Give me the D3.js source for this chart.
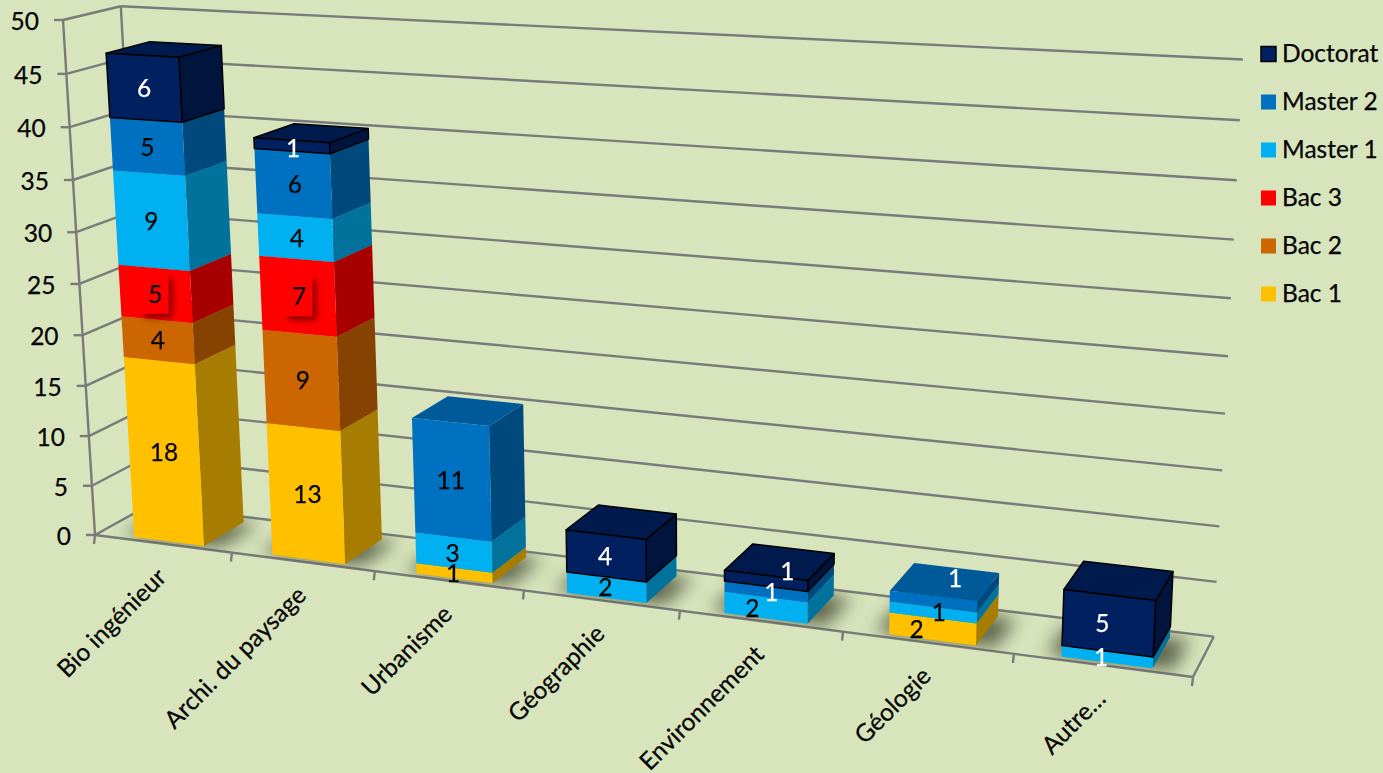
<!DOCTYPE html>
<html>
<head>
<meta charset="utf-8">
<script src="https://cdnjs.cloudflare.com/ajax/libs/d3/7.8.5/d3.min.js"></script>
<style>
	html, body { margin: 0; padding: 0; background: #D8E4BC; overflow: hidden; }
	text { font-family: Lato, "Open Sans", sans-serif; fill: #050505; font-size: 24.5px; stroke: currentColor; stroke-width: 0.25px; color: #050505; }
	.grid { stroke: #7a7a7a; stroke-width: 2.4; fill: none; }
</style>
</head>
<body>
<svg id="viz" width="1383" height="773"></svg>
<script>

// The data. Bottom of the stack first.
var categories = [ 'Bio ingénieur', 'Archi. du paysage', 'Urbanisme', 'Géographie', 'Environnement', 'Géologie', 'Autre…' ];
var seriesNames = [ 'Bac 1', 'Bac 2', 'Bac 3', 'Master 1', 'Master 2', 'Doctorat' ];
var bac1 = [ 18, 13, 1, 0, 0, 2, 0 ];
var bac2 = [ 4, 9, 0, 0, 0, 0, 0 ];
var bac3 = [ 5, 7, 0, 0, 0, 0, 0 ];
var master1 = [ 9, 4, 3, 2, 2, 1, 1 ];
var master2 = [ 5, 6, 11, 0, 1, 1, 0 ];
var doctorat = [ 6, 1, 0, 4, 1, 0, 5 ];
var valueTicks = [ 0, 5, 10, 15, 20, 25, 30, 35, 40, 45, 50 ];
var seriesColors = [ '#FFC000', '#CC6600', '#FF0000', '#00B0F0', '#0070C0', '#002060' ];

window.stackViz = {

	/**
	 * @private
	 * Screen position and perspective weight of the three box edges that leave the origin.
	 */
	_box: {
		origin: [ 95, 535 ],
		u: { end: [ 1193, 677 ], weight: 0.855 },
		v: { end: [ 63, 20 ], weight: 0.951 },
		w: { end: [ 149, 505 ], weight: 1.034 }
	},

	_barDepth: [ 0.08, 0.85 ],

	// Small sideways shift of the data labels, one per bar.
	_labelShift: [ 0, 1.5, -1, -1, 0.5, 0, -6 ],

	// Data labels that were moved by hand in the picture: [ dx, dy ] from the centre of the face.
	_labelNudge: {
		'4|Master 1': [ -14, 0 ],
		'4|Master 2': [ 5, 0 ],
		'4|Doctorat': [ 21, -10 ],
		'5|Bac 1': [ -16, 0 ],
		'5|Master 1': [ 6, 0 ],
		'5|Master 2': [ 22, -24 ],
		'1|Doctorat': [ 0, 2 ]
	},

	_whiteLabels: [ '4|Master 2', '5|Master 2', '6|Master 1' ],

	/**
	 * @private
	 * Perspective projection of a point of the unit box.
	 */
	_project: function ( u, v, w ) {
		var box = this._box;
		var axis = function ( i ) {
			return box.origin[i] +
				u * ( box.u.weight * box.u.end[i] - box.origin[i] ) +
				v * ( box.v.weight * box.v.end[i] - box.origin[i] ) +
				w * ( box.w.weight * box.w.end[i] - box.origin[i] );
		};
		var h = 1 + u * ( box.u.weight - 1 ) + v * ( box.v.weight - 1 ) + w * ( box.w.weight - 1 );
		return [ axis( 0 ) / h, axis( 1 ) / h ];
	},

	_poly: function ( points ) {
		return points.map( function ( p ) {
			return this._project( p[0], p[1], p[2] ).join( ',' );
		}.bind( this ) ).join( ' ' );
	},

	_setScales: function () {
		this._svg = d3.select( '#viz' );
		this._valueScale = d3.scaleLinear().domain( [ 0, 50 ] ).range( [ 0, 1 ] );
		this._bandScale = d3.scaleBand().domain( categories ).range( [ 0.002, 1.002 ] ).paddingInner( 0.49 ).paddingOuter( 0.245 );
		this._tickScale = d3.scalePoint().domain( d3.range( categories.length + 1 ) ).range( [ 0, 1 ] );

		var rows = categories.map( function ( c, i ) {
			return { 'Bac 1': bac1[i], 'Bac 2': bac2[i], 'Bac 3': bac3[i], 'Master 1': master1[i], 'Master 2': master2[i], 'Doctorat': doctorat[i] };
		} );
		this._stack = d3.stack().keys( seriesNames )( rows );
	},

	_createDefs: function () {
		var defs = this._svg.append( 'defs' );
		defs.append( 'filter' ).attr( 'id', 'floor-shadow' )
			.attr( 'x', '-50%' ).attr( 'y', '-50%' ).attr( 'width', '200%' ).attr( 'height', '200%' )
			.append( 'feGaussianBlur' ).attr( 'stdDeviation', 9 );
		defs.append( 'filter' ).attr( 'id', 'box-shadow' )
			.attr( 'x', '-50%' ).attr( 'y', '-50%' ).attr( 'width', '200%' ).attr( 'height', '200%' )
			.append( 'feDropShadow' ).attr( 'dx', 4 ).attr( 'dy', 4 ).attr( 'stdDeviation', 3 )
			.attr( 'flood-color', '#600000' ).attr( 'flood-opacity', 0.75 );
		defs.append( 'clipPath' ).attr( 'id', 'floor-clip' )
			.append( 'polygon' ).attr( 'points', this._poly( [ [ 0, 0, 0 ], [ 1, 0, 0 ], [ 1, 0, 1 ], [ 0, 0, 1 ] ] ) );
	},

	_createGrid: function () {
		var self = this;
		var grid = this._svg.append( 'g' );

		var line = function ( a, b ) {
			var p = self._project( a[0], a[1], a[2] );
			var q = self._project( b[0], b[1], b[2] );
			grid.append( 'line' ).classed( 'grid', true )
				.attr( 'x1', p[0] ).attr( 'y1', p[1] ).attr( 'x2', q[0] ).attr( 'y2', q[1] );
		};

		valueTicks.forEach( function ( t ) {
			var v = self._valueScale( t );
			line( [ 0, v, 0 ], [ 0, v, 1 ] );
			line( [ 0, v, 1 ], [ 1, v, 1 ] );

			var p = self._project( 0, v, 0 );
			grid.append( 'line' ).classed( 'grid', true )
				.attr( 'x1', p[0] - 9 ).attr( 'y1', p[1] ).attr( 'x2', p[0] ).attr( 'y2', p[1] );
			grid.append( 'text' )
				.attr( 'x', p[0] - 24 ).attr( 'y', p[1] + 10 )
				.attr( 'text-anchor', 'end' )
				.text( t );
		} );

		line( [ 0, 0, 0 ], [ 0, 1, 0 ] );
		line( [ 0, 0, 1 ], [ 0, 1, 1 ] );
		line( [ 0, 0, 0 ], [ 1, 0, 0 ] );
		line( [ 1, 0, 0 ], [ 1, 0, 1 ] );

		this._tickScale.domain().forEach( function ( i ) {
			var p = self._project( self._tickScale( i ), 0, 0 );
			grid.append( 'line' ).classed( 'grid', true )
				.attr( 'x1', p[0] ).attr( 'y1', p[1] ).attr( 'x2', p[0] - 1 ).attr( 'y2', p[1] + 9 );
		} );

		categories.forEach( function ( c, i ) {
			var p = self._project( ( self._tickScale( i ) + self._tickScale( i + 1 ) ) / 2, 0, 0 );
			grid.append( 'text' )
				.attr( 'transform', 'translate(' + ( p[0] + 5 ) + ',' + ( p[1] + 35 ) + ') rotate(-45)' )
				.attr( 'text-anchor', 'end' )
				.text( c );
		} );
	},

	_createShadows: function () {
		var self = this;
		var layer = this._svg.append( 'g' ).attr( 'clip-path', 'url(#floor-clip)' )
			.append( 'g' ).attr( 'filter', 'url(#floor-shadow)' );
		var d = this._barDepth;
		categories.forEach( function ( c ) {
			var u0 = self._bandScale( c ) - 0.012;
			var u1 = self._bandScale( c ) + self._bandScale.bandwidth() + 0.016;
			layer.append( 'polygon' )
				.attr( 'points', self._poly( [ [ u0, 0, d[0] ], [ u1, 0, d[0] ], [ u1, 0, d[1] ], [ u0, 0, d[1] ] ] ) )
				.attr( 'fill', '#4a5238' ).attr( 'opacity', 0.85 );
		} );
	},

	_createBars: function () {
		var self = this;
		var d = this._barDepth;
		var labels = [];

		categories.forEach( function ( c, i ) {
			var u0 = self._bandScale( c );
			var u1 = u0 + self._bandScale.bandwidth();
			var bar = self._svg.append( 'g' );

			self._stack.forEach( function ( layer, s ) {
				var y0 = layer[i][0];
				var y1 = layer[i][1];
				if ( y1 === y0 ) { return; }

				var v0 = self._valueScale( y0 );
				var v1 = self._valueScale( y1 );
				var base = d3.rgb( seriesColors[s] );
				var isDoc = layer.key === 'Doctorat';
				var stroke = isDoc ? '#000' : 'none';

				var face = function ( points, k ) {
					bar.append( 'polygon' )
						.attr( 'points', self._poly( points ) )
						.attr( 'fill', d3.rgb( base.r * k, base.g * k, base.b * k ) )
						.attr( 'stroke', stroke )
						.attr( 'stroke-width', 1.5 )
						.attr( 'stroke-linejoin', 'round' );
				};

				face( [ [ u1, v0, d[0] ], [ u1, v0, d[1] ], [ u1, v1, d[1] ], [ u1, v1, d[0] ] ], 0.65 );
				face( [ [ u0, v1, d[0] ], [ u1, v1, d[0] ], [ u1, v1, d[1] ], [ u0, v1, d[1] ] ], 0.8 );
				face( [ [ u0, v0, d[0] ], [ u1, v0, d[0] ], [ u1, v1, d[0] ], [ u0, v1, d[0] ] ], 1 );

				var p = self._project( ( u0 + u1 ) / 2, ( v0 + v1 ) / 2, d[0] );
				var key = i + '|' + layer.key;
				var nudge = self._labelNudge[key] || [ 0, 0 ];
				labels.push( {
					x: p[0] + self._labelShift[i] + nudge[0],
					y: p[1] + nudge[1],
					value: y1 - y0,
					white: isDoc || self._whiteLabels.indexOf( key ) !== -1,
					box: layer.key === 'Bac 3'
				} );
			} );
		} );

		// Labels sit above every bar.
		var group = this._svg.append( 'g' );
		labels.forEach( function ( l ) {
			if ( l.box ) {
				group.append( 'rect' )
					.attr( 'x', l.x - 15 ).attr( 'y', l.y - 20 ).attr( 'width', 28 ).attr( 'height', 40 )
					.attr( 'fill', '#FF0000' ).attr( 'filter', 'url(#box-shadow)' );
			}
			group.append( 'text' )
				.attr( 'x', l.x ).attr( 'y', l.y + 9 )
				.attr( 'text-anchor', 'middle' )
				.style( 'fill', l.white ? '#fff' : '#050505' )
				.style( 'color', l.white ? '#fff' : '#050505' )
				.text( l.value );
		} );
	},

	_createLegend: function () {
		var order = seriesNames.slice().reverse();
		var y = d3.scalePoint().domain( order ).range( [ 54, 294 ] );
		var rows = this._svg.append( 'g' ).selectAll( 'g' )
			.data( order ).enter().append( 'g' )
			.attr( 'transform', function ( d ) { return 'translate(1261,' + y( d ) + ')'; } );

		rows.append( 'rect' )
			.attr( 'x', 0 ).attr( 'y', -7.5 ).attr( 'width', 15 ).attr( 'height', 15 )
			.attr( 'fill', function ( d ) { return seriesColors[seriesNames.indexOf( d )]; } )
			.attr( 'stroke', function ( d ) { return d === 'Doctorat' ? '#000' : 'none'; } )
			.attr( 'stroke-width', 1.5 );

		rows.append( 'text' )
			.attr( 'x', 21 ).attr( 'y', 8 )
			.text( function ( d ) { return d; } );
	},

	on: function () {
		this._setScales();
		this._createDefs();
		this._createGrid();
		this._createShadows();
		this._createBars();
		this._createLegend();
	}

};

window.stackViz.on();
</script>
</body>
</html>
